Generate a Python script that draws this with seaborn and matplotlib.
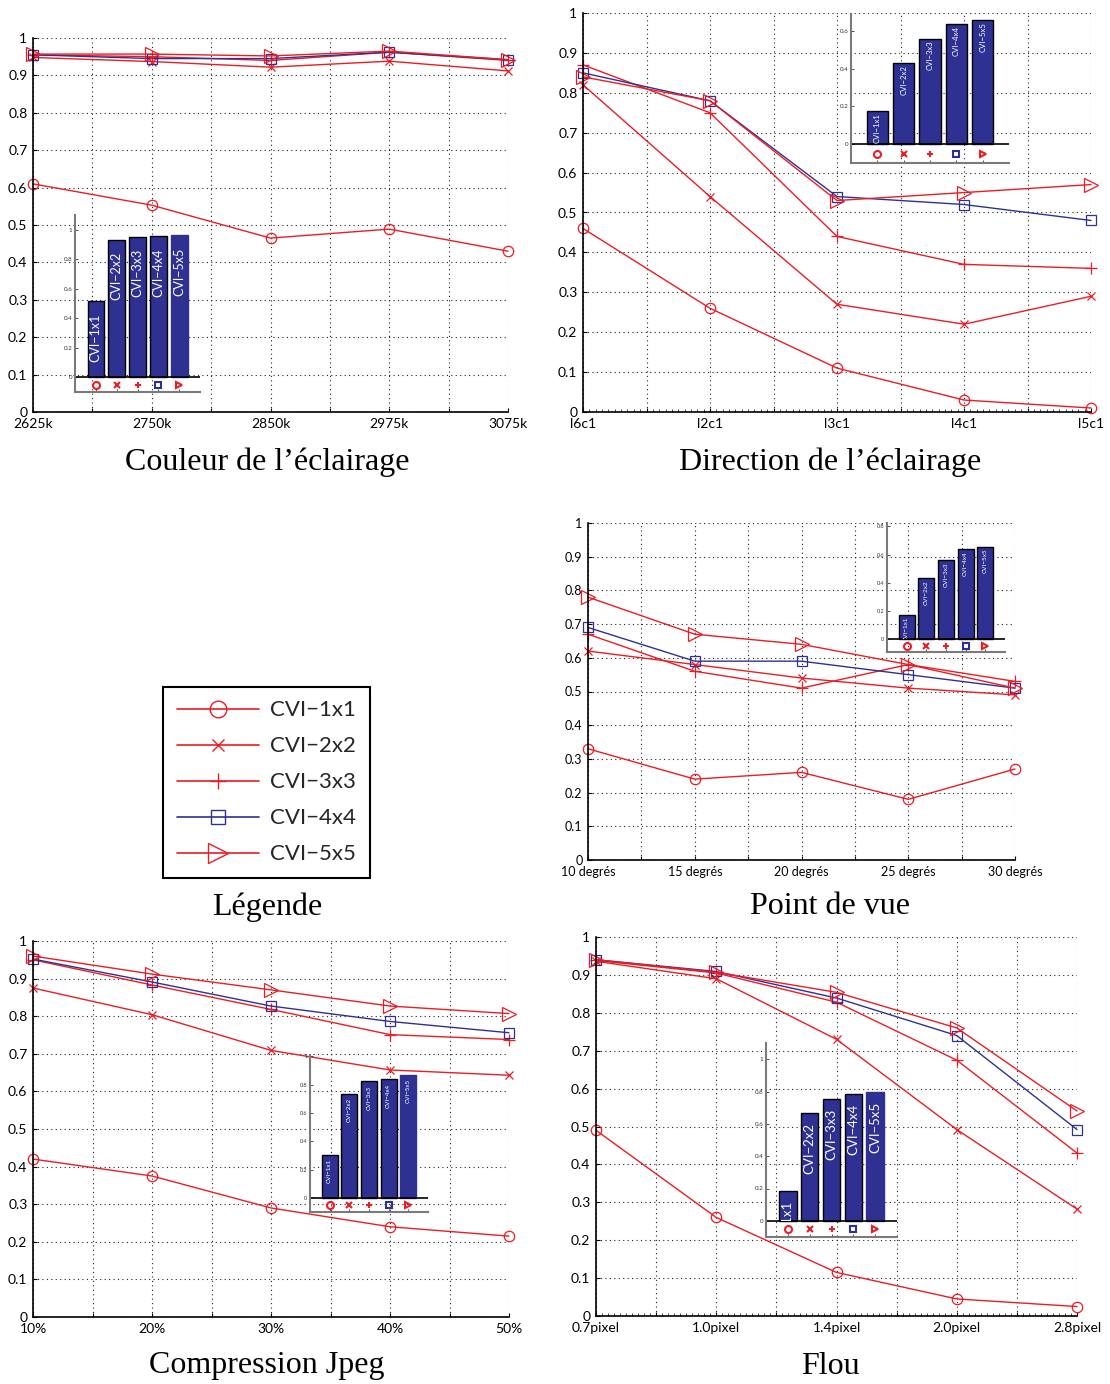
import numpy as np
import matplotlib
matplotlib.use("Agg")
import matplotlib.pyplot as plt
import seaborn as sns
from matplotlib.lines import Line2D
from matplotlib.ticker import FuncFormatter, MultipleLocator

sns.set_theme(style="ticks")
plt.rcParams["font.family"] = ["Lato", "DejaVu Sans"]

# ---------------------------------------------------------------- data
methods = ["CVI−1x1", "CVI−2x2", "CVI−3x3", "CVI−4x4", "CVI−5x5"]

couleur_ticks = ["2625k", "2750k", "2850k", "2975k", "3075k"]
couleur_1x1 = [0.61, 0.553, 0.465, 0.489, 0.43]
couleur_2x2 = [0.948, 0.937, 0.922, 0.938, 0.912]
couleur_3x3 = [0.955, 0.950, 0.940, 0.962, 0.940]
couleur_4x4 = [0.955, 0.945, 0.945, 0.962, 0.942]
couleur_5x5 = [0.957, 0.957, 0.952, 0.965, 0.942]
couleur_bars = [0.515, 0.933, 0.953, 0.957, 0.962]

direction_ticks = ["l6c1", "l2c1", "l3c1", "l4c1", "l5c1"]
direction_1x1 = [0.46, 0.26, 0.11, 0.03, 0.01]
direction_2x2 = [0.82, 0.54, 0.27, 0.22, 0.29]
direction_3x3 = [0.87, 0.75, 0.44, 0.37, 0.36]
direction_4x4 = [0.85, 0.78, 0.54, 0.52, 0.48]
direction_5x5 = [0.84, 0.78, 0.53, 0.55, 0.57]
direction_bars = [0.178, 0.432, 0.560, 0.638, 0.656]

vue_ticks = ["10 degrés", "15 degrés", "20 degrés", "25 degrés", "30 degrés"]
vue_1x1 = [0.33, 0.24, 0.26, 0.18, 0.27]
vue_2x2 = [0.62, 0.58, 0.54, 0.51, 0.49]
vue_3x3 = [0.67, 0.56, 0.51, 0.58, 0.53]
vue_4x4 = [0.69, 0.59, 0.59, 0.55, 0.51]
vue_5x5 = [0.78, 0.67, 0.64, 0.58, 0.51]
vue_bars = [0.176, 0.432, 0.560, 0.638, 0.656]

jpeg_ticks = ["10%", "20%", "30%", "40%", "50%"]
jpeg_1x1 = [0.42, 0.375, 0.29, 0.24, 0.215]
jpeg_2x2 = [0.875, 0.804, 0.709, 0.657, 0.643]
jpeg_3x3 = [0.950, 0.883, 0.818, 0.751, 0.738]
jpeg_4x4 = [0.952, 0.891, 0.827, 0.786, 0.756]
jpeg_5x5 = [0.960, 0.912, 0.870, 0.827, 0.807]
jpeg_bars = [0.306, 0.736, 0.824, 0.838, 0.871]

flou_ticks = ["0.7pixel", "1.0pixel", "1.4pixel", "2.0pixel", "2.8pixel"]
flou_1x1 = [0.49, 0.26, 0.115, 0.045, 0.025]
flou_2x2 = [0.936, 0.890, 0.730, 0.492, 0.282]
flou_3x3 = [0.938, 0.905, 0.828, 0.675, 0.430]
flou_4x4 = [0.940, 0.909, 0.839, 0.740, 0.492]
flou_5x5 = [0.940, 0.907, 0.854, 0.760, 0.541]
flou_bars = [0.186, 0.668, 0.754, 0.785, 0.799]

# ---------------------------------------------------------------- styles
RED = "#EC1C24"
BLUE = "#2E3192"
NAVY = "#2E3192"
colors = [RED, RED, RED, BLUE, RED]
markers = ["o", "x", "+", "s", ">"]
msizes = [7.5, 5.5, 8.5, 6.5, 9.5]
W, H = 1110, 1384

fig = plt.figure(figsize=(W / 100, H / 100), dpi=100)
fig.patch.set_facecolor("white")


def rect(x0, y0, x1, y1):
    """Pixel box (left, top, right, bottom) -> figure fraction rect."""
    return [x0 / W, 1 - y1 / H, (x1 - x0) / W, (y1 - y0) / H]


def gfmt(v, pos):
    return f"{v:g}"


def draw_panel(box, ticklabels, series, dense_minor=False, tick_fs=10):
    ax = fig.add_axes(rect(*box))
    xs = np.arange(1, 6)
    for vals, c, m, ms in zip(series, colors, markers, msizes):
        sns.lineplot(x=xs, y=vals, ax=ax, color=c, marker=m, markersize=ms,
                     markerfacecolor="none", markeredgecolor=c,
                     markeredgewidth=0.9, linewidth=1.0, legend=False,
                     errorbar=None, clip_on=False)
    ax.set_xlim(1, 5)
    ax.set_ylim(0, 1)
    ax.set_xticks(np.arange(1, 5.01, 0.5))
    ax.set_xticklabels([ticklabels[i // 2] if i % 2 == 0 else "" for i in range(9)])
    ax.set_yticks(np.round(np.arange(0, 1.01, 0.1), 1))
    ax.yaxis.set_major_formatter(FuncFormatter(gfmt))
    if dense_minor:
        ax.xaxis.set_minor_locator(MultipleLocator(0.05))
        ax.tick_params(axis="x", which="minor", direction="in", length=2, width=0.6)
    ax.grid(True, linestyle=(0, (1, 3)), color="#222222", linewidth=0.8)
    ax.set_xlabel("")
    ax.set_ylabel("")
    for s in ["top", "right"]:
        ax.spines[s].set_visible(False)
    for s in ["left", "bottom"]:
        ax.spines[s].set_color("black")
        ax.spines[s].set_linewidth(1.2)
    ax.tick_params(which="major", direction="in", length=3, width=0.8,
                   labelsize=tick_fs, colors="black", pad=4)
    ax.set_facecolor("white")
    return ax


def draw_inset(box, heights, ylim, yticks, fs, off, edge_last=True, tick_fs=4.5):
    ax = fig.add_axes(rect(*box))
    ax.set_facecolor("none")
    sns.barplot(x=methods, y=heights, color=NAVY, saturation=1,
                edgecolor="black", linewidth=1.0, width=0.8, ax=ax)
    if not edge_last:
        ax.patches[-1].set_edgecolor(NAVY)
    ax.set_xlim(-1, 5)
    ax.set_ylim(*ylim)
    ax.axhline(0, color="black", lw=1.2)
    for i, (p, lab, h) in enumerate(zip(ax.patches, methods, heights)):
        t = ax.annotate(lab, (i, h), xytext=(0, -off), textcoords="offset points",
                        rotation=90, ha="center", va="top", color="white",
                        fontsize=fs)
        t.set_clip_path(p)
    for i, (m, c) in enumerate(zip(markers, colors)):
        ax.plot(i, ylim[0] / 2, marker=m, markersize=5, markerfacecolor="none",
                markeredgecolor=c, markeredgewidth=1.5, clip_on=False)
    ax.set_yticks(yticks)
    ax.yaxis.set_major_formatter(FuncFormatter(gfmt))
    ax.set_xticks(range(5))
    ax.set_xticklabels([])
    ax.set_xlabel("")
    ax.set_ylabel("")
    for s in ["top", "right"]:
        ax.spines[s].set_visible(False)
    for s in ["left", "bottom"]:
        ax.spines[s].set_color("#7a7a7a")
        ax.spines[s].set_linewidth(1.5)
    ax.tick_params(direction="in", length=2, width=0.6, labelsize=tick_fs,
                   colors="#333333", pad=2)
    return ax


def title(x, y, s):
    fig.text(x / W, 1 - y / H, s, ha="center", va="center", fontsize=23,
             family=["Liberation Serif", "DejaVu Serif"], color="black")


# ---------------------------------------------------------------- Couleur
draw_panel((33, 38, 508, 412), couleur_ticks,
           [couleur_1x1, couleur_2x2, couleur_3x3, couleur_4x4, couleur_5x5])
draw_inset((75, 215, 200, 392), couleur_bars, (-0.1, 1.1),
           [0, 0.2, 0.4, 0.6, 0.8, 1], fs=9, off=9, edge_last=False)
title(267, 462, "Couleur de l’éclairage")

# ---------------------------------------------------------------- Direction
draw_panel((583, 13, 1091, 412), direction_ticks,
           [direction_1x1, direction_2x2, direction_3x3, direction_4x4, direction_5x5],
           dense_minor=True)
draw_inset((851, 14, 1009, 163), direction_bars, (-0.1, 0.69),
           [0, 0.2, 0.4, 0.6], fs=5.6, off=1.5)
title(830, 462, "Direction de l’éclairage")

# ---------------------------------------------------------------- Point de vue
draw_panel((588, 523, 1015, 860), vue_ticks,
           [vue_1x1, vue_2x2, vue_3x3, vue_4x4, vue_5x5], tick_fs=9)
draw_inset((887, 523, 1005, 652), vue_bars, (-0.089, 0.824),
           [0, 0.2, 0.4, 0.6, 0.8], fs=4.6, off=1.5, tick_fs=4)
title(830, 907, "Point de vue")

# ---------------------------------------------------------------- Compression Jpeg
draw_panel((33, 941, 509, 1317), jpeg_ticks,
           [jpeg_1x1, jpeg_2x2, jpeg_3x3, jpeg_4x4, jpeg_5x5])
draw_inset((310, 1055, 428, 1212), jpeg_bars, (-0.099, 1.01),
           [0, 0.2, 0.4, 0.6, 0.8, 1], fs=4.5, off=3, edge_last=False, tick_fs=4)
title(267, 1366, "Compression Jpeg")

# ---------------------------------------------------------------- Flou
draw_panel((596, 937, 1077, 1316), flou_ticks,
           [flou_1x1, flou_2x2, flou_3x3, flou_4x4, flou_5x5], dense_minor=True)
draw_inset((766, 1043, 897, 1237), flou_bars, (-0.1, 1.1),
           [0, 0.2, 0.4, 0.6, 0.8, 1], fs=9.5, off=7, edge_last=False)
title(830, 1366, "Flou")

# ---------------------------------------------------------------- Légende
lax = fig.add_axes(rect(164, 689, 369, 876))
lax.axis("off")
leg_sizes = [12, 8, 12, 10, 14]
handles = [Line2D([0], [0], color=c, marker=m, markersize=s, lw=1.2,
                  markerfacecolor="none", markeredgecolor=c, markeredgewidth=1.0)
           for c, m, s in zip(colors, markers, leg_sizes)]
leg = lax.legend(handles, methods, loc="center", fontsize=16, frameon=True,
                 fancybox=False, edgecolor="black", framealpha=1,
                 handlelength=3.7, handletextpad=0.5, labelspacing=0.72,
                 borderpad=0.62, borderaxespad=0)
leg.get_frame().set_linewidth(1.5)
title(267, 907, "Légende")

fig.savefig("out.png", dpi=100, facecolor="white")
